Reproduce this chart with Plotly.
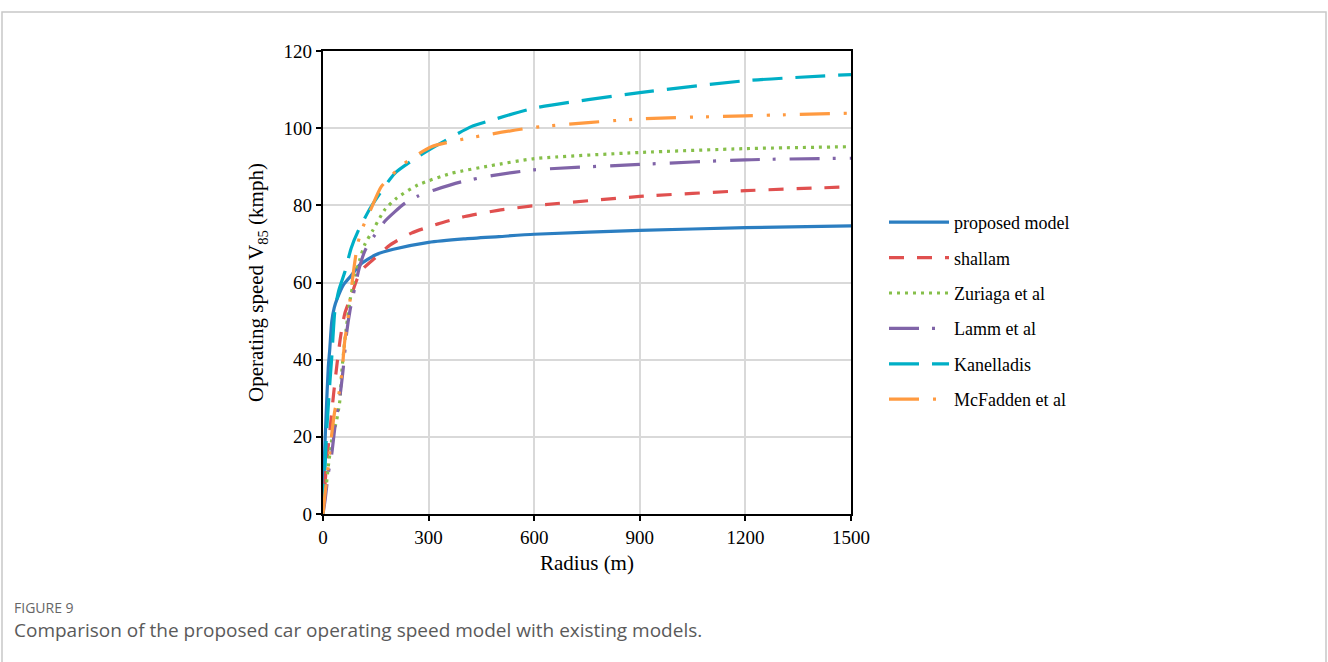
import plotly.graph_objects as go

# ---- data ----
proposed_x = [0, 3, 5, 9, 15, 19, 25, 32, 39, 58, 80, 105, 150, 200, 300, 400, 500, 600, 900, 1200, 1500]
proposed_y = [6, 12.3, 17, 26, 38, 42.5, 50, 53.5, 55.5, 59.4, 61.8, 64.6, 67.2, 68.6, 70.4, 71.3, 71.9, 72.5, 73.5, 74.2, 74.7]

shallam_x = [0, 10, 20, 30, 40, 50, 62, 80, 96, 115, 147, 190, 251, 327, 403, 497, 600, 900, 1200, 1500]
shallam_y = [0, 13, 22, 31, 39, 46, 52, 56.5, 60.7, 63.7, 66.3, 69.7, 72.8, 75.2, 77.1, 78.7, 79.9, 82.3, 83.8, 84.8]

zuriaga_x = [0, 10, 15, 25, 39, 48, 53, 62, 77, 90, 104, 118, 142, 175, 208, 270, 365, 478, 600, 900, 1200, 1500]
zuriaga_y = [0, 8, 12.3, 19.2, 24.4, 29.5, 36.5, 45, 55.5, 61.5, 65.8, 69.7, 73.6, 78.8, 81.8, 85.3, 88.3, 90.3, 92.1, 93.7, 94.7, 95.2]

lamm_x = [0, 6, 15, 25, 34, 48, 58, 67, 77, 90, 102, 120, 147, 175, 232, 270, 317, 393, 480, 600, 900, 1200, 1500]
lamm_y = [0, 3.6, 10.5, 15.7, 22.6, 30.4, 38.2, 46.8, 52.9, 58.5, 63.4, 68.4, 72.3, 75.8, 80.5, 82.4, 84, 86.1, 87.7, 89.2, 90.6, 91.8, 92.2]

kanelladis_x = [0, 6, 10, 20, 25, 34, 45, 62, 80, 99, 137, 204, 270, 317, 421, 480, 600, 900, 1200, 1500]
kanelladis_y = [0, 12.3, 20.9, 34.7, 40.8, 52.9, 58, 62.7, 68.9, 73.2, 79.7, 88.3, 92.6, 95.2, 100.4, 102.1, 105.2, 109.2, 112.3, 113.9]

mcfadden_x = [0, 6, 15, 25, 34, 45, 53, 62, 70, 77, 86, 99, 114, 137, 166, 232, 308, 384, 480, 600, 900, 1200, 1500]
mcfadden_y = [0, 5.4, 12.3, 20.9, 27, 31, 36, 45, 50, 55.5, 62.4, 70.2, 74.5, 79.2, 84.9, 90.9, 95.2, 96.9, 98.5, 100.2, 102.4, 103.2, 103.9]

series = [
    ("proposed model", proposed_x, proposed_y, "#2B7EC1", "solid"),
    ("shallam", shallam_x, shallam_y, "#E0504F", "15px,13px"),
    ("Zuriaga et al", zuriaga_x, zuriaga_y, "#86BF4A", "3px,5px"),
    ("Lamm et al", lamm_x, lamm_y, "#8064A8", "30px,13px,3px,14px"),
    ("Kanelladis", kanelladis_x, kanelladis_y, "#00AFC6", "30px,13px"),
    ("McFadden et al", mcfadden_x, mcfadden_y, "#FF9A40", "30px,14px,3px,13px,3px,14px"),
]

fig = go.Figure()
for i, (name, xs, ys, color, dash) in enumerate(series):
    fig.add_trace(go.Scatter(
        x=xs, y=ys, mode="lines", name=name, legendgroup=f"g{i}",
        line=dict(color=color, width=3.2, dash=dash, shape="spline", smoothing=0.6),
    ))

serif = "Liberation Serif, Times New Roman, serif"
sans = "Open Sans, Noto Sans, sans-serif"

L, R, T, B = 323, 1328 - 851, 51, 662 - 514
PW, PH = 851 - 323, 514 - 51

def px(xp):
    return (xp - L) / PW

def py(yp):
    return (514 - yp) / PH

axis_common = dict(
    showline=True, mirror=True, linecolor="black", linewidth=2.2,
    ticks="outside", ticklen=5, tickwidth=1.5, tickcolor="black",
    showgrid=True, gridcolor="#D9D9D9", gridwidth=1.6,
    zeroline=False, tickfont=dict(family=serif, size=19, color="black"),
)

fig.update_layout(
    width=1328, height=662,
    margin=dict(l=L, r=R, t=T, b=B, pad=0),
    paper_bgcolor="white", plot_bgcolor="white",
    xaxis=dict(range=[0, 1500], tickvals=[0, 300, 600, 900, 1200, 1500],
               title=dict(text="Radius (m)", font=dict(family=serif, size=21, color="black"), standoff=8),
               **axis_common),
    yaxis=dict(range=[0, 120], tickvals=[0, 20, 40, 60, 80, 100, 120],
               title=dict(text="Operating speed V<sub>85</sub> (kmph)", font=dict(family=serif, size=21, color="black"), standoff=14),
               **axis_common),
    legend=dict(x=px(884), y=py(204), xanchor="left", yanchor="top",
                font=dict(family=serif, size=18, color="black"),
                itemwidth=60, tracegroupgap=9, bgcolor="rgba(0,0,0,0)"),
    showlegend=True,
    shapes=[dict(type="rect", xref="paper", yref="paper",
                 x0=px(2), x1=px(1326), y0=py(700), y1=py(12),
                 line=dict(color="#C8C8C8", width=1.5), fillcolor="rgba(0,0,0,0)", layer="below")],
    annotations=[
        dict(text="FIGURE 9", xref="paper", yref="paper", x=px(12), y=py(607),
             xanchor="left", yanchor="middle", showarrow=False,
             font=dict(family=sans, size=14, color="#666666")),
        dict(text="Comparison of the proposed car operating speed model with existing models.",
             xref="paper", yref="paper", x=px(12), y=py(630),
             xanchor="left", yanchor="middle", showarrow=False,
             font=dict(family=sans, size=19, color="#5A5A5A")),
    ],
)

fig.write_html("out.html")
